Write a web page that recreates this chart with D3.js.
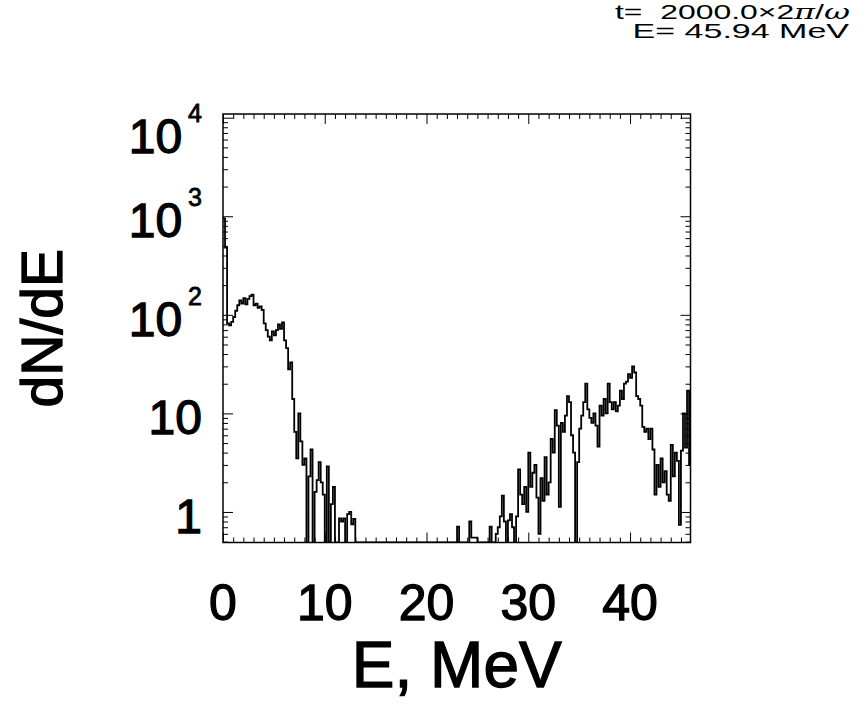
<!DOCTYPE html>
<html>
<head>
<meta charset="utf-8">
<script src="https://cdn.jsdelivr.net/npm/d3@7"></script>
<style>
  body { margin: 0; background: #fff; }
  text { font-family: "Liberation Sans", Arial, Helvetica, sans-serif; fill: #000; }
  .heavy { stroke: #000; stroke-width: 1.3px; }
</style>
</head>
<body>
<svg id="spectrum" width="865" height="706"></svg>
<script>
// spectrum dN/dE, one value per 0.2 MeV bin starting at E = 0 (0 = empty bin)
const binWidth = 0.2;
const energyMax = 45.94;
const counts = [
  950, 480, 82, 78, 85, 95, 110, 125, 140, 130,
  148, 128, 145, 155, 160, 125, 130, 118, 122, 112,
  82, 70, 60, 55, 68, 62, 70, 80, 72, 84,
  55, 46, 28, 33, 14, 6.5, 3.5, 10, 5.2, 3.0,
  3.5, 0, 2.3, 4.3, 0, 1.6, 2.1, 3.2, 2.0, 1.5,
  0, 2.9, 0, 1.2, 1.8, 0, 0, 0.86, 0.8, 0.86,
  0, 0.95, 1.0, 0.75, 0.85, 0, 0, 0, 0, 0,
  0, 0, 0, 0, 0, 0, 0, 0, 0, 0,
  0, 0, 0, 0, 0, 0, 0, 0, 0, 0,
  0, 0, 0, 0, 0, 0, 0, 0, 0, 0,
  0, 0, 0, 0, 0, 0, 0, 0, 0, 0,
  0, 0, 0, 0, 0, 0.71, 0, 0, 0, 0,
  0, 0.8, 0.55, 0.55, 0.55, 0, 0, 0, 0, 0,
  0, 0.71, 0, 0, 0.6, 0.7, 0.9, 1.46, 0.8, 0,
  0.82, 0.95, 0.7, 0, 0.9, 2.7, 1.5, 1.2, 1.8, 1.0,
  4.0, 1.8, 2.5, 3.0, 1.4, 0.6, 2.2, 1.3, 3.6, 1.5,
  2.0, 5.5, 4.0, 10.8, 7.5, 1.13, 8, 6.5, 9.5, 15,
  13, 6, 4, 0, 3.2, 7, 9.5, 13, 20, 11,
  9, 8, 10, 7.5, 4.6, 12, 9.5, 14, 10, 20,
  13, 11, 13, 10.5, 12, 17, 14, 20, 21, 25,
  23, 30, 26, 15, 14, 12, 7.3, 6.5, 7, 5.5,
  7, 4.3, 1.5, 3.0, 1.8, 3.5, 2.0, 2.6, 1.5, 1.3,
  4.8, 2.3, 4.0, 3.3, 0.74, 4.2, 10, 4.5, 17, 3
];
const xMajor = [0, 10, 20, 30, 40];
const yMajor = [1, 10, 100, 1000, 10000];
const yLabels = [["1", ""], ["10", ""], ["10", "2"], ["10", "3"], ["10", "4"]];

const svg = d3.select("#spectrum");
const box = { left: 223, right: 690.5, top: 114, bottom: 542.5 };

const x = d3.scaleLinear().domain([0, energyMax]).range([box.left, box.right]);
const y = d3.scaleLog().domain([0.49, 10900]).range([box.bottom, box.top]).clamp(true);

const xMinor = d3.range(0, energyMax, 1).filter(d => d % 10 !== 0);
const yMinor = [];
[0.1, 1, 10, 100, 1000].forEach(dec => {
  for (let k = 2; k <= 9; k++) {
    const v = dec * k;
    if (v >= 0.49 && v <= 10900) yMinor.push(v);
  }
});

// clip for the data
svg.append("clipPath").attr("id", "plotClip")
  .append("rect")
  .attr("x", box.left).attr("y", box.top)
  .attr("width", box.right - box.left).attr("height", box.bottom - box.top);

// histogram line
const pts = counts.map((v, i) => [i * binWidth, v]);
pts.push([counts.length * binWidth, counts[counts.length - 1]]);
const line = d3.line()
  .x(d => x(d[0]))
  .y(d => y(d[1] > 0 ? d[1] : 0.01))
  .curve(d3.curveStepAfter);

svg.append("path")
  .datum(pts)
  .attr("clip-path", "url(#plotClip)")
  .attr("d", line)
  .attr("fill", "none")
  .attr("stroke", "#000")
  .attr("stroke-width", 1.8);

// axes, ticks inward on all four sides
function ticks(axis, pos, values, size) {
  const g = svg.append("g")
    .attr("transform", pos)
    .call(axis.tickValues(values).tickSize(-size).tickFormat(""));
  g.select(".domain").remove();
  g.selectAll(".tick line").attr("stroke", "#000").attr("stroke-width", 1);
}
ticks(d3.axisBottom(x), `translate(0,${box.bottom})`, xMajor, 10);
ticks(d3.axisBottom(x), `translate(0,${box.bottom})`, xMinor, 5);
ticks(d3.axisTop(x), `translate(0,${box.top})`, xMajor, 10);
ticks(d3.axisTop(x), `translate(0,${box.top})`, xMinor, 5);
ticks(d3.axisLeft(y), `translate(${box.left},0)`, yMajor, 10);
ticks(d3.axisLeft(y), `translate(${box.left},0)`, yMinor, 5);
ticks(d3.axisRight(y), `translate(${box.right},0)`, yMajor, 10);
ticks(d3.axisRight(y), `translate(${box.right},0)`, yMinor, 5);

svg.append("rect")
  .attr("x", box.left).attr("y", box.top)
  .attr("width", box.right - box.left).attr("height", box.bottom - box.top)
  .attr("fill", "none").attr("stroke", "#000").attr("stroke-width", 1.5);

// tick labels
svg.append("g").selectAll("text")
  .data(xMajor)
  .enter().append("text")
  .attr("class", "heavy")
  .attr("x", d => x(d))
  .attr("y", 620)
  .attr("text-anchor", "middle")
  .attr("font-size", "50px")
  .text(d => d);

const yl = svg.append("g").selectAll("text")
  .data(yMajor)
  .enter().append("text")
  .attr("class", "heavy")
  .attr("x", 202)
  .attr("y", (d, i) => Math.max(y(d) + 21, box.top + 39))
  .attr("text-anchor", "end")
  .attr("font-size", "48px");
yl.append("tspan").text((d, i) => yLabels[i][0]);
yl.append("tspan")
  .attr("dx", (d, i) => yLabels[i][1] ? 6 : 0)
  .attr("dy", -31)
  .attr("font-size", "25px")
  .style("stroke-width", "0.8px")
  .text((d, i) => yLabels[i][1]);

// axis titles
svg.append("text")
  .attr("class", "heavy")
  .attr("x", (box.left + box.right) / 2)
  .attr("y", 687)
  .attr("text-anchor", "middle")
  .attr("font-size", "64px")
  .text("E, MeV");

svg.append("text")
  .attr("class", "heavy")
  .attr("transform", `translate(62,${(box.top + box.bottom) / 2}) rotate(-90)`)
  .attr("text-anchor", "middle")
  .attr("font-size", "57px")
  .text("dN/dE");

// run info, top right (wide lettering)
const t1 = svg.append("g").attr("transform", "translate(850,0) scale(1.52,1)")
  .append("text")
  .attr("x", 0).attr("y", 19.5)
  .attr("text-anchor", "end")
  .attr("font-size", "21px")
  .style("white-space", "pre");
t1.append("tspan").text("t=  2000.0×2");
t1.append("tspan").attr("font-style", "italic").attr("font-family", "DejaVu Serif, serif").text("π");
t1.append("tspan").text("/");
t1.append("tspan").attr("font-style", "italic").attr("font-family", "DejaVu Serif, serif").text("ω");

svg.append("g").attr("transform", "translate(849,0) scale(1.62,1)")
  .append("text")
  .attr("x", 0).attr("y", 38.5)
  .attr("text-anchor", "end")
  .attr("font-size", "21px")
  .text("E= 45.94 MeV");
</script>
</body>
</html>
